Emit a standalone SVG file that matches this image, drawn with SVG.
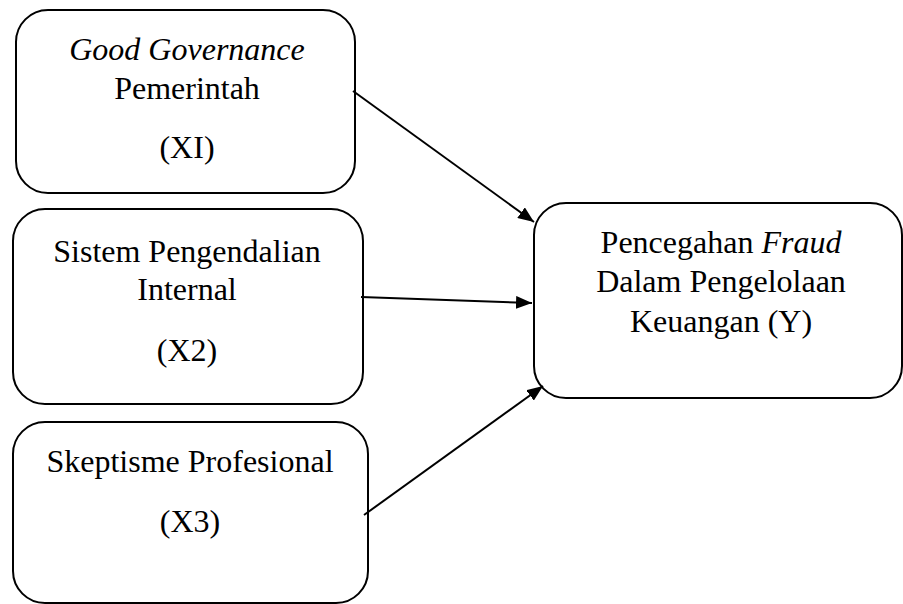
<svg xmlns="http://www.w3.org/2000/svg" width="903" height="604" viewBox="0 0 903 604">
<style>
.box{fill:#fff;stroke:#000;stroke-width:2}
.t{font-family:'Liberation Serif','Times New Roman',Times,serif;font-size:32px;fill:#000;text-anchor:middle}
.c{stroke:#000;stroke-width:2;fill:none;marker-end:url(#ah)}
</style>
<defs>
<marker id="ah" viewBox="0 0 10 10" refX="10" refY="5" markerWidth="16" markerHeight="13" markerUnits="userSpaceOnUse" orient="auto" preserveAspectRatio="none">
<path d="M0,0L10,5L0,10z" fill="#000"/>
</marker>
</defs>
<rect width="903" height="604" fill="#fff"/>
<g id="x1">
<rect class="box" x="16" y="10" width="339" height="183" rx="32"/>
<text class="t" x="187" y="60" font-family="Liberation Serif"><tspan font-style="italic">Good Governance</tspan></text>
<text class="t" x="187" y="99" font-family="Liberation Serif">Pemerintah</text>
<text class="t" x="187" y="158" font-family="Liberation Serif">(XI)</text>
</g>
<g id="x2">
<rect class="box" x="13" y="209" width="350" height="195" rx="32"/>
<text class="t" x="187" y="262" font-family="Liberation Serif">Sistem Pengendalian</text>
<text class="t" x="187" y="300" font-family="Liberation Serif">Internal</text>
<text class="t" x="187" y="361" font-family="Liberation Serif">(X2)</text>
</g>
<g id="x3">
<rect class="box" x="13" y="422" width="355" height="181" rx="32"/>
<text class="t" x="190" y="472" font-family="Liberation Serif">Skeptisme Profesional</text>
<text class="t" x="190" y="532" font-family="Liberation Serif">(X3)</text>
</g>
<g id="y">
<rect class="box" x="534" y="203" width="368" height="195" rx="32"/>
<text class="t" x="721" y="253" font-family="Liberation Serif">Pencegahan <tspan font-style="italic">Fraud</tspan></text>
<text class="t" x="721" y="292" font-family="Liberation Serif">Dalam Pengelolaan</text>
<text class="t" x="721" y="332" font-family="Liberation Serif">Keuangan (Y)</text>
</g>
<g id="connectors">
<line class="c" x1="353" y1="91" x2="534" y2="222"/>
<line class="c" x1="361" y1="297" x2="532" y2="303"/>
<line class="c" x1="364" y1="515" x2="543" y2="386"/>
</g>
</svg>
